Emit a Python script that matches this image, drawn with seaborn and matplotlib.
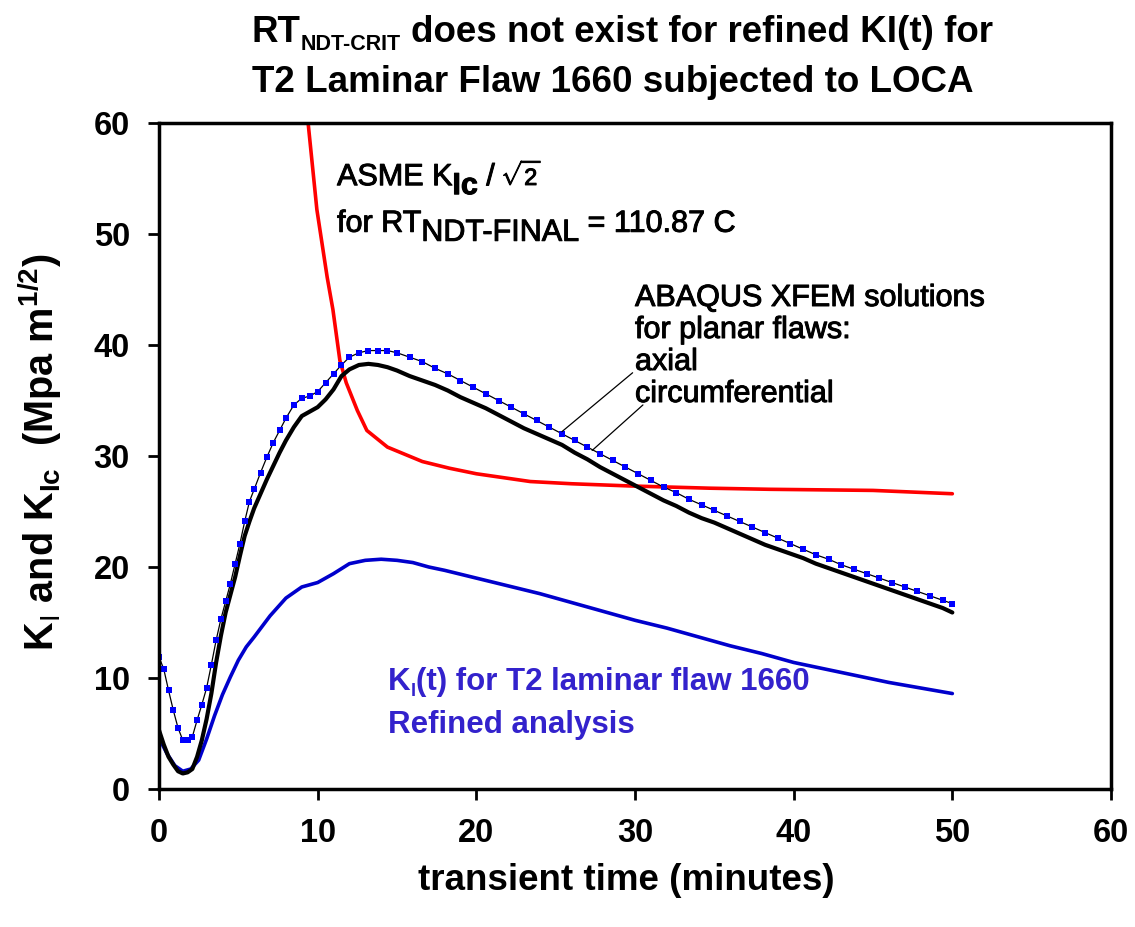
import matplotlib
matplotlib.use("Agg")
import matplotlib.pyplot as plt
import matplotlib.patheffects as pe
import seaborn as sns

# ---------------------------------------------------------------- data
# ABAQUS XFEM solutions (planar flaws), time in minutes, K_I in MPa m^1/2
t_xfem = [0, 0.3, 0.6, 0.9, 1.2, 1.5, 1.8, 2.1, 2.4, 2.7, 3.0, 3.3, 3.6, 3.9,
          4.2, 4.5, 4.8, 5.1, 5.4, 5.7, 6.0, 6.4, 6.8, 7.2, 7.6, 8.0, 8.5, 9.0,
          9.5, 10.0, 10.5, 11.0, 11.5, 12.0, 12.6, 13.2, 13.8, 14.4, 15.0,
          15.8, 16.6, 17.4, 18.2, 19.0, 19.8, 20.6, 21.4, 22.2, 23.0, 23.8,
          24.6, 25.4, 26.2, 27.0, 27.8, 28.6, 29.4, 30.2, 31.0, 31.8, 32.6,
          33.4, 34.2, 35.0, 35.8, 36.6, 37.4, 38.2, 39.0, 39.8, 40.6, 41.4,
          42.2, 43.0, 43.8, 44.6, 45.4, 46.2, 47.0, 47.8, 48.6, 49.4, 50.0]
ki_axial = [11.9, 10.8, 8.9, 7.1, 5.5, 4.4, 4.4, 4.7, 6.2, 7.6, 9.1, 11.2, 13.4,
            15.3, 16.9, 18.5, 20.3, 22.1, 24.1, 25.9, 27.0, 28.5, 29.9, 31.2,
            32.3, 33.4, 34.6, 35.2, 35.4, 35.8, 36.6, 37.4, 38.2, 38.9, 39.3,
            39.5, 39.5, 39.5, 39.3, 38.9, 38.5, 37.9, 37.4, 36.8, 36.2, 35.6,
            35.0, 34.4, 33.8, 33.2, 32.6, 32.0, 31.4, 30.8, 30.2, 29.6, 29.0,
            28.4, 27.8, 27.2, 26.7, 26.1, 25.6, 25.1, 24.6, 24.1, 23.6, 23.1,
            22.6, 22.1, 21.6, 21.1, 20.7, 20.2, 19.8, 19.4, 19.0, 18.6, 18.2,
            17.8, 17.4, 17.0, 16.7]
ki_circ = [5.3, 4.0, 2.9, 2.2, 1.6, 1.4, 1.5, 1.8, 2.9, 4.4, 6.3, 8.6, 11.4,
           13.8, 15.9, 17.5, 19.1, 21.0, 22.8, 24.1, 25.3, 26.6, 27.9, 29.1,
           30.3, 31.4, 32.6, 33.6, 34.0, 34.4, 35.1, 36.0, 37.2, 37.8, 38.2,
           38.3, 38.2, 38.0, 37.7, 37.2, 36.8, 36.4, 35.9, 35.3, 34.8, 34.3,
           33.7, 33.1, 32.5, 32.0, 31.5, 31.0, 30.3, 29.7, 29.0, 28.4, 27.8,
           27.2, 26.6, 26.0, 25.5, 24.9, 24.4, 24.0, 23.5, 23.0, 22.5, 22.0,
           21.6, 21.2, 20.8, 20.3, 19.9, 19.5, 19.1, 18.7, 18.3, 17.9, 17.5,
           17.1, 16.7, 16.3, 15.9]

# K_I(t) for T2 laminar flaw 1660, refined analysis
t_refined = [0, 0.5, 1.0, 1.5, 2.0, 2.5, 3.0, 3.5, 4.0, 4.5, 5.0, 5.5, 6.0,
             7.0, 8.0, 9.0, 10.0, 11.0, 12.0, 13.0, 14.0, 15.0, 16.0, 17.0,
             18.0, 20, 22, 24, 26, 28, 30, 32, 34, 36, 38, 40, 42, 44, 46,
             48, 50]
ki_refined = [4.6, 3.2, 2.1, 1.6, 1.8, 2.6, 4.5, 6.6, 8.5, 10.1, 11.6, 12.8,
              13.7, 15.6, 17.2, 18.2, 18.6, 19.4, 20.3, 20.6, 20.7, 20.6, 20.4,
              20.0, 19.7, 19.0, 18.3, 17.6, 16.8, 16.0, 15.2, 14.5, 13.7, 12.9,
              12.2, 11.4, 10.8, 10.2, 9.6, 9.1, 8.6]

# ASME K_Ic / sqrt(2) for RT_NDT-FINAL = 110.87 C
t_kic = [9.2, 9.95, 10.6, 10.96, 11.4, 11.8, 12.5, 13.1, 14.4, 16.6, 18.3,
         20, 23.4, 26, 29.7, 34.7, 38.5, 45, 50]
kic = [62.8, 52.2, 46.1, 43.2, 38.6, 36.6, 34.1, 32.3, 30.8, 29.5, 28.9,
       28.4, 27.7, 27.5, 27.3, 27.1, 27.0, 26.9, 26.6]

x_ticks = [0, 10, 20, 30, 40, 50, 60]
y_ticks = [0, 10, 20, 30, 40, 50, 60]

# ---------------------------------------------------------------- style
sns.set_theme(style="ticks")
plt.rcParams["font.family"] = ["Liberation Sans", "DejaVu Sans"]
plt.rcParams["mathtext.fontset"] = "custom"
plt.rcParams["mathtext.rm"] = "Liberation Sans"
plt.rcParams["mathtext.bf"] = "Liberation Sans:bold"
plt.rcParams["mathtext.it"] = "Liberation Sans:italic"

W, H, DPI = 1135, 927, 100
PT = 72.0 / DPI  # points per pixel

fig = plt.figure(figsize=(W / DPI, H / DPI), dpi=DPI, facecolor="white")
ax = fig.add_axes([159 / W, 1 - 789 / H, (1111 - 159) / W, (789 - 123) / H])

RED = "#ff0000"
BLUE_LINE = "#0000cc"
BLUE_TEXT = "#3322cc"
# slightly heavier strokes for the plain-weight annotation text
HEAVY = [pe.withStroke(linewidth=0.7, foreground="black")]

sns.lineplot(x=t_kic, y=kic, ax=ax, color=RED, linewidth=2.6, sort=False)
sns.lineplot(x=t_refined, y=ki_refined, ax=ax, color=BLUE_LINE, linewidth=2.6,
             sort=False)
sns.lineplot(x=t_xfem, y=ki_circ, ax=ax, color="black", linewidth=3.0,
             sort=False)
sns.lineplot(x=t_xfem, y=ki_axial, ax=ax, color="black", linewidth=0.9,
             marker="s", markersize=4.3, markerfacecolor="#0000ff",
             markeredgewidth=0, sort=False)

ax.set_xlim(0, 60)
ax.set_ylim(0, 60)
ax.set_xticks(x_ticks)
ax.set_yticks(y_ticks)
ax.set_xticklabels([str(v) for v in x_ticks])
ax.set_yticklabels([str(v) for v in y_ticks])
ax.tick_params(axis="both", direction="out", length=8, width=2,
               colors="black", labelsize=23.5, pad=13)
for lbl in ax.get_xticklabels() + ax.get_yticklabels():
    lbl.set_fontweight("bold")
for sp in ax.spines.values():
    sp.set_visible(True)
    sp.set_color("black")
    sp.set_linewidth(2.5)

ax.set_xlabel("transient time (minutes)", fontsize=26.5, fontweight="bold",
              color="black")
ax.xaxis.set_label_coords((626 - 159) / 952, (789 - 880) / 666)
ax.xaxis.label.set_va("center")

ax.set_ylabel(r"K$_{\mathrm{I}}$ and K$_{\mathbf{Ic}}$  (Mpa $\mathbf{m^{1/2}}$)",
              fontsize=28.5, fontweight="bold", color="black")
ax.yaxis.set_label_coords((40 - 159) / 952, (789 - 452) / 666)
ax.yaxis.label.set_va("center")


# ---------------------------------------------------------------- text
def rich_line(x, y, runs, coords, ha="left", effects=None):
    """Lay out text runs side by side on one baseline.

    runs: (text, size, weight, color, drop_px, spaces_before)
    """
    renderer = fig.canvas.get_renderer()
    placed = []
    for text, size, weight, color, drop, pre in runs:
        a = ax.annotate(text, xy=(x, y), xycoords=coords, xytext=(0, 0),
                        textcoords="offset points", fontsize=size,
                        fontweight=weight, color=color, ha="left",
                        va="baseline", annotation_clip=False)
        if effects:
            a.set_path_effects(effects)
        w = a.get_window_extent(renderer).width
        gap = pre * 0.278 * size / PT
        placed.append((a, w, gap, drop))
    total = sum(w + g for _, w, g, _ in placed)
    off = -total / 2 if ha == "center" else 0.0
    for a, w, gap, drop in placed:
        off += gap
        a.xyann = (off * PT, -drop * PT)
        off += w


# title
rich_line(622, H - 42, [
    ("RT", 26.5, "bold", "black", 0, 0),
    ("NDT-CRIT", 15.5, "bold", "black", 8, 0),
    ("does not exist for refined KI(t) for", 26.5, "bold", "black", 0, 1),
], "figure pixels", ha="center")
rich_line(613, H - 92, [
    ("T2 Laminar Flaw 1660 subjected to LOCA", 26.5, "bold", "black", 0, 0),
], "figure pixels", ha="center")

# ASME K_Ic curve label
rich_line(11.22, 54.4, [
    ("ASME K", 22, "normal", "black", 0, 0),
    ("Ic", 22, "bold", "black", 9, 0),
    ("/", 22, "normal", "black", 0, 1),
    (r"$\sqrt{2}$", 17, "normal", "black", 0, 1),
], "data", effects=HEAVY)
rich_line(11.22, 50.2, [
    ("for RT", 22, "normal", "black", 0, 0),
    ("NDT-FINAL", 22, "normal", "black", 9, 0),
    ("= 110.87 C", 22, "normal", "black", 0, 1),
], "data", effects=HEAVY)

# XFEM labels
xfem_lines = ["ABAQUS XFEM solutions", "for planar flaws:", "axial",
              "circumferential"]
for i, s in enumerate(xfem_lines):
    ax.text(30.0, (789 - (306 + 32 * i)) / 11.1, s, fontsize=22,
            color="black", ha="left", va="baseline", path_effects=HEAVY)

# leader lines from the labels to the curves
ax.annotate("", xy=(25.4, 32.2), xytext=(29.85, 37.5),
            arrowprops=dict(arrowstyle="-", color="black", lw=0.9,
                            shrinkA=0, shrinkB=0))
ax.annotate("", xy=(27.3, 30.5), xytext=(30.5, 34.6),
            arrowprops=dict(arrowstyle="-", color="black", lw=0.9,
                            shrinkA=0, shrinkB=0))

# refined analysis label
rich_line(14.43, 8.9, [
    ("K", 22.5, "bold", BLUE_TEXT, 0, 0),
    ("I", 13, "bold", BLUE_TEXT, 6, 0),
    ("(t) for T2 laminar flaw 1660", 22.5, "bold", BLUE_TEXT, 0, 0),
], "data")
ax.text(14.43, 5.0, "Refined analysis", fontsize=22.5, fontweight="bold",
        color=BLUE_TEXT, ha="left", va="baseline")

fig.savefig("out.png", dpi=DPI, facecolor="white")
